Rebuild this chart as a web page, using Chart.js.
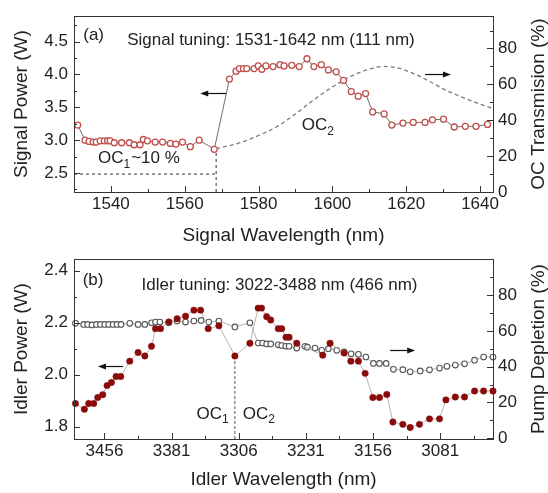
<!DOCTYPE html>
<html><head><meta charset="utf-8">
<script src="https://cdn.jsdelivr.net/npm/chart.js@4.4.1/dist/chart.umd.min.js"></script>
<style>
html,body{margin:0;padding:0;background:#fff;}
#wrap{position:relative;width:548px;height:493px;overflow:hidden;background:#fff;}
#c1{position:absolute;left:0;top:0;}
#c2{position:absolute;left:0;top:243px;}
</style></head><body>
<div id="wrap"><canvas id="c1" width="548" height="255"></canvas><canvas id="c2" width="548" height="250"></canvas></div>
<script>
// ---------- Panel (a): signal tuning ----------
const signalWavelength = [1531,1533,1534.1,1535.2,1536,1537.1,1538.2,1539.1,1539.8,1540.9,1542.9,1545,1546.3,1547.9,1548.8,1549.9,1552,1554,1556.1,1557.6,1559.4,1561.5,1563.9,1568,1572.1,1573.9,1574.8,1575.9,1576.8,1578.8,1579.9,1580.9,1582,1583.9,1585.8,1586.9,1589,1591,1593.1,1595,1597,1598.9,1601,1603,1605.1,1607,1609,1610.9,1614,1616.1,1619.1,1621.9,1625.1,1627.1,1630.1,1633,1636,1638.9,1642];
const signalPower = [3.23,3.0,2.98,2.97,2.97,2.99,2.99,2.99,2.99,2.96,2.96,2.96,2.93,2.93,3.01,2.99,2.97,2.97,2.95,2.94,2.97,2.90,3.00,2.86,3.93,4.05,4.09,4.09,4.09,4.09,4.13,4.08,4.13,4.12,4.15,4.13,4.14,4.12,4.24,4.12,4.15,4.07,4.04,3.91,3.74,3.67,3.71,3.43,3.40,3.23,3.26,3.27,3.27,3.31,3.32,3.20,3.21,3.21,3.24];
const oc2Wavelength = [1568.5,1570,1575,1580,1585,1590,1595,1600,1605,1610,1614,1618,1622,1626,1630,1635,1640,1643.5];
const oc2Transmission = [24,24.8,27.5,31.5,36.5,43.5,51.5,58.5,64.5,68.5,70,69,66,62,57.5,53,49,46.5];
const oc1Transmission = 10;
const ocSwitchSignal = 1568.5;
const signalXMin = 1530, signalXMax = 1643.5;
const signalXTicksMajor = [1540,1560,1580,1600,1620,1640];
const signalXTicksMinor = [1550,1570,1590,1610,1630];
const signalYTicksMajor = [2.5,3.0,3.5,4.0,4.5];
const signalYTicksMinor = [2.25,2.75,3.25,3.75,4.25,4.75];
const pctTicksMajor = [0,20,40,60,80];
const pctTicksMinor = [10,30,50,70,90];

// ---------- Panel (b): idler tuning ----------
const idlerWavelength = [3488.4,3478.4,3473.6,3468,3463.5,3457.9,3453.1,3448.2,3443,3437.8,3427.7,3418.4,3410.9,3403.4,3399,3393.4,3384.1,3374.8,3365.4,3356.1,3348.6,3340.1,3328.2,3310.3,3293.5,3284.3,3280.5,3274.8,3270.3,3261.8,3258,3253.2,3249.8,3241.2,3212.2,3204,3188.3,3180.8,3172.3,3164.8,3156.2,3148.8,3140.6,3133.8,3122.7,3114.5,3104.1,3092.9,3081.7,3074.6,3064.1,3053.8,3042.6,3032.5,3022];
const idlerPower = [1.889,1.867,1.889,1.889,1.912,1.923,1.958,1.970,1.993,1.993,2.052,2.085,2.072,2.109,2.177,2.177,2.203,2.215,2.225,2.248,2.248,2.177,2.188,2.072,2.121,2.256,2.256,2.223,2.210,2.177,2.177,2.144,2.144,2.121,2.075,2.121,2.083,2.052,2.052,2.005,1.912,1.912,1.924,1.818,1.809,1.797,1.809,1.830,1.830,1.903,1.914,1.914,1.937,1.937,1.937];
const pumpWavelength = [3488.4,3479.2,3474.7,3469.9,3465,3460.5,3455.7,3451.2,3446.4,3441.9,3437.4,3427.7,3418.4,3410.9,3403.4,3399,3394.1,3384.1,3374.8,3365.4,3356.1,3348,3339.4,3328.2,3310.3,3293.5,3284.2,3279.3,3274.8,3270.3,3261.8,3258,3253.5,3249.8,3241.2,3231.9,3229.4,3220.8,3213.3,3205.9,3196.5,3188.3,3180.5,3172.3,3164,3155.6,3148.8,3141.3,3133.2,3122.7,3114.5,3103.3,3092.9,3081.7,3073.5,3064.1,3053.8,3042.6,3032.5,3022];
const pumpDepletion = [64.2,63.6,63.6,63.3,63.6,63.6,63.6,63.6,63.6,63.6,63.6,64.2,63.6,63.6,64.5,64.9,64.9,64.5,65.5,64.9,65.5,65.8,64.9,65.5,62.2,64.5,53.2,53.2,52.7,52.7,52.2,51.8,51.4,51.4,50.4,51.4,50.9,50.4,49.1,50,49.1,48.2,47.2,46.9,45.4,41.8,41.8,41.8,38.5,38.3,37.1,37.6,38.2,39.2,40.2,40.9,41.6,43.6,45.4,45.4];
const ocSwitchIdler = 3310.3;
const idlerXMin = 3022, idlerXMax = 3490;
const idlerXTicksMajor = [3456,3381,3306,3231,3156,3081];
const idlerXTicksMinor = [3418.5,3343.5,3268.5,3193.5,3118.5,3043.5];
const idlerYTicksMajor = [1.8,2.0,2.2,2.4];
const idlerYTicksMinor = [1.9,2.1,2.3];

// ---------- helpers ----------
const FONT = '"Liberation Sans", Arial, Helvetica, sans-serif';
const TXT = '#222';
const pts = (xs, ys) => xs.map((x, i) => ({x, y: ys[i]}));

function scaleCfg(o) {
  return {
    type: 'linear', position: o.position, min: o.min, max: o.max, reverse: !!o.reverse,
    grid: {display: false, drawTicks: false}, border: {display: false},
    afterBuildTicks: s => { s.ticks = o.major.concat(o.minor).sort((a, b) => a - b).map(v => ({value: v})); },
    afterFit: s => { if (s.isHorizontal()) s.height = o.size; else s.width = o.size; },
    ticks: {autoSkip: false, maxRotation: 0, minRotation: 0, padding: o.pad, color: TXT,
      font: {family: FONT, size: 17},
      callback: v => o.major.some(m => Math.abs(m - v) < 1e-9) ? o.fmt(v) : ''},
    title: {display: !o.customTitle, text: o.title, color: TXT, font: {family: FONT, size: 19, lineHeight: 1}, padding: o.titlePad || 0},
    _major: o.major, _minor: o.minor, _title: o.title
  };
}

function makeDeco(cfg) {
  return {
    id: 'deco',
    afterDatasetsDraw(chart) {
      const {ctx, chartArea: a, scales} = chart;
      ctx.save();
      ctx.strokeStyle = '#333'; ctx.lineWidth = 1;
      ctx.strokeRect(Math.round(a.left) + 0.5, Math.round(a.top) + 0.5, Math.round(a.right - a.left), Math.round(a.bottom - a.top));
      const tk = (scale, vals, len) => {
        vals.forEach(v => {
          const p = Math.round(scale.getPixelForValue(v)) + 0.5;
          ctx.beginPath();
          if (scale.isHorizontal()) {
            if (p < a.left + 1 || p > a.right - 1) return;
            ctx.moveTo(p, a.bottom); ctx.lineTo(p, a.bottom - len);
          } else if (scale.position === 'left') {
            if (p < a.top + 1 || p > a.bottom) return;
            ctx.moveTo(a.left, p); ctx.lineTo(a.left + len, p);
          } else {
            if (p < a.top + 1 || p > a.bottom) return;
            ctx.moveTo(a.right, p); ctx.lineTo(a.right - len, p);
          }
          ctx.stroke();
        });
      };
      ['x', 'y', 'y2'].forEach(id => {
        const s = scales[id];
        tk(s, s.options._major, 6);
        tk(s, s.options._minor, 3);
      });
      // right-axis title, reading bottom-to-top
      const s2 = scales.y2;
      ctx.save();
      ctx.fillStyle = TXT; ctx.font = '19px ' + FONT; ctx.textAlign = 'center'; ctx.textBaseline = 'middle';
      ctx.translate(s2.right - 9.5, (a.top + a.bottom) / 2);
      ctx.rotate(-Math.PI / 2);
      ctx.fillText(s2.options._title, 0, 0);
      ctx.restore();
      // arrows
      ctx.fillStyle = '#111'; ctx.strokeStyle = '#111'; ctx.lineWidth = 1.2;
      cfg.arrows.forEach(ar => {
        const ys = scales[ar.axis];
        const x1 = scales.x.getPixelForValue(ar.x1), x2 = scales.x.getPixelForValue(ar.x2);
        const y = Math.round(ys.getPixelForValue(ar.y)) + 0.5;
        const dir = Math.sign(x2 - x1);
        ctx.beginPath(); ctx.moveTo(x1, y); ctx.lineTo(x2 - dir * 6, y); ctx.stroke();
        ctx.beginPath(); ctx.moveTo(x2, y); ctx.lineTo(x2 - dir * 8, y - 3); ctx.lineTo(x2 - dir * 8, y + 3); ctx.closePath(); ctx.fill();
      });
      // texts
      ctx.fillStyle = TXT; ctx.textBaseline = 'middle'; ctx.textAlign = 'left';
      cfg.texts.forEach(t => {
        let x = scales.x.getPixelForValue(t.x);
        const y = scales[t.axis].getPixelForValue(t.y);
        t.parts.forEach(([s, sub]) => {
          ctx.font = (sub ? 12 : t.size || 17) + 'px ' + FONT;
          ctx.fillText(s, x, sub ? y + 6 : y);
          x += ctx.measureText(s).width + (sub ? 1 : 0);
        });
      });
      ctx.restore();
    }
  };
}

const common = {
  responsive: false, animation: false, events: [],
  plugins: {legend: {display: false}, tooltip: {enabled: false}}
};

// ---------- chart (a) ----------
new Chart(document.getElementById('c1'), {
  type: 'scatter',
  data: {datasets: [
    {data: pts(signalWavelength, signalPower), yAxisID: 'y', showLine: true, borderColor: '#6e6e6e', borderWidth: 1,
     pointRadius: 3, pointBorderWidth: 1.3, pointBorderColor: '#c0504d', pointBackgroundColor: '#ffffff', clip: false},
    {data: pts(oc2Wavelength, oc2Transmission), yAxisID: 'y2', showLine: true, borderColor: '#7a7a7a', borderWidth: 1.3,
     borderDash: [4, 3], pointRadius: 0, cubicInterpolationMode: 'monotone'},
    {data: [{x: signalXMin, y: oc1Transmission}, {x: ocSwitchSignal, y: oc1Transmission}], yAxisID: 'y2', showLine: true,
     borderColor: '#333', borderWidth: 1, borderDash: [3, 3], pointRadius: 0},
    {data: [{x: ocSwitchSignal, y: 0}, {x: ocSwitchSignal, y: oc2Transmission[0]}], yAxisID: 'y2', showLine: true,
     borderColor: '#333', borderWidth: 1, borderDash: [3, 3], pointRadius: 0}
  ]},
  options: Object.assign({}, common, {
    layout: {padding: {top: 12, left: 0, right: 0, bottom: 0}},
    scales: {
      x: scaleCfg({position: 'bottom', min: signalXMin, max: signalXMax, major: signalXTicksMajor, minor: signalXTicksMinor,
        size: 63, pad: 2, fmt: v => String(v), title: 'Signal Wavelength (nm)', titlePad: {top: 0, bottom: 9.5}}),
      y: scaleCfg({position: 'left', min: 2.21, max: 4.888, major: signalYTicksMajor, minor: signalYTicksMinor,
        size: 74, pad: 6, fmt: v => v.toFixed(1), title: 'Signal Power (W)', titlePad: {top: 12.5, bottom: 0}}),
      y2: scaleCfg({position: 'right', min: 0, max: 98, major: pctTicksMajor, minor: pctTicksMinor,
        size: 55, pad: 5, fmt: v => String(v), title: 'OC Transmision (%)', customTitle: true})
    }
  }),
  plugins: [makeDeco({
    arrows: [{x1: 1571.2, x2: 1564.2, y: 3.717, axis: 'y'}, {x1: 1625.1, x2: 1632.1, y: 66, axis: 'y2'}],
    texts: [
      {x: 1532.5, y: 4.595, axis: 'y', parts: [['(a)']]},
      {x: 1544.4, y: 4.52, axis: 'y', parts: [['Signal tuning: 1531-1642 nm (111 nm)']]},
      {x: 1536.5, y: 2.716, axis: 'y', parts: [['OC'], ['1', true], ['~10 %']]},
      {x: 1591.7, y: 3.22, axis: 'y', parts: [['OC'], ['2', true]]}
    ]
  })]
});

// ---------- chart (b) ----------
new Chart(document.getElementById('c2'), {
  type: 'scatter',
  data: {datasets: [
    {data: pts(idlerWavelength, idlerPower), yAxisID: 'y', showLine: true, borderColor: '#b5b5b5', borderWidth: 1,
     pointRadius: 3.2, pointBorderWidth: 0.5, pointBorderColor: '#8b0a0a', pointBackgroundColor: '#8b0a0a', clip: false},
    {data: pts(pumpWavelength, pumpDepletion), yAxisID: 'y2', showLine: true, borderColor: '#b5b5b5', borderWidth: 1,
     pointRadius: 2.8, pointBorderWidth: 1.1, pointBorderColor: '#555555', pointBackgroundColor: '#ffffff', clip: false},
    {data: [{x: ocSwitchIdler, y: 1.7526}, {x: ocSwitchIdler, y: idlerPower[idlerWavelength.indexOf(ocSwitchIdler)]}], yAxisID: 'y',
     showLine: true, borderColor: '#555', borderWidth: 1, borderDash: [3, 2], pointRadius: 0}
  ]},
  options: Object.assign({}, common, {
    layout: {padding: {top: 12, left: 0, right: 0, bottom: 0}},
    scales: {
      x: scaleCfg({position: 'bottom', min: idlerXMin, max: idlerXMax, reverse: true, major: idlerXTicksMajor, minor: idlerXTicksMinor,
        size: 54, pad: 2, fmt: v => String(v), title: 'Idler Wavelength (nm)', titlePad: {top: 0, bottom: 3.5}}),
      y: scaleCfg({position: 'left', min: 1.7526, max: 2.444, major: idlerYTicksMajor, minor: idlerYTicksMinor,
        size: 74, pad: 6, fmt: v => v.toFixed(1), title: 'Idler Power (W)', titlePad: {top: 12.5, bottom: 0}}),
      y2: scaleCfg({position: 'right', min: -0.4, max: 100, major: pctTicksMajor, minor: pctTicksMinor,
        size: 55, pad: 5, fmt: v => String(v), title: 'Pump Depletion (%)', customTitle: true})
    }
  }),
  plugins: [makeDeco({
    arrows: [{x1: 3435.2, x2: 3463.2, y: 2.035, axis: 'y'}, {x1: 3136.9, x2: 3108.9, y: 49.1, axis: 'y2'}],
    texts: [
      {x: 3480.3, y: 2.363, axis: 'y', parts: [['(b)']]},
      {x: 3414.6, y: 2.344, axis: 'y', parts: [['Idler tuning: 3022-3488 nm (466 nm)']]},
      {x: 3353.1, y: 1.849, axis: 'y', parts: [['OC'], ['1', true]]},
      {x: 3301.6, y: 1.849, axis: 'y', parts: [['OC'], ['2', true]]}
    ]
  })]
});
</script>
</body></html>
